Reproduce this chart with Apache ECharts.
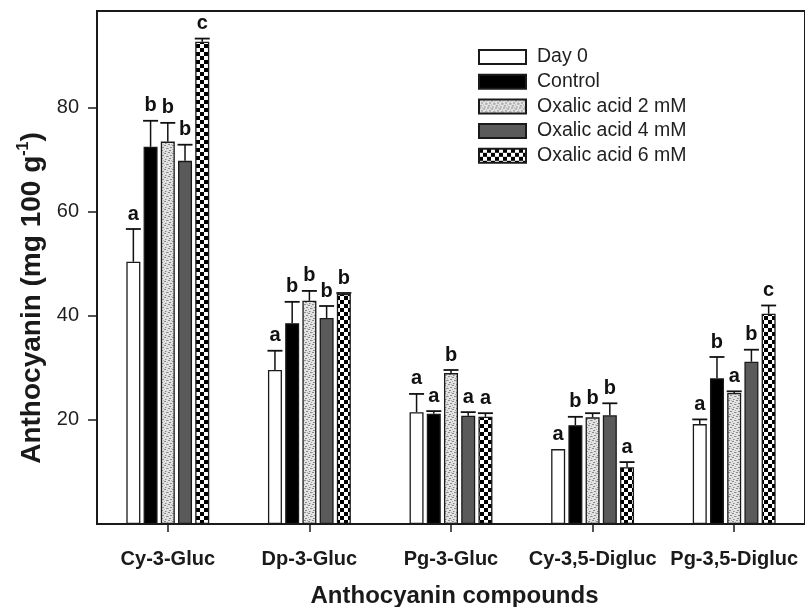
<!DOCTYPE html>
<html><head><meta charset="utf-8">
<script src="https://cdn.jsdelivr.net/npm/echarts@6/dist/echarts.min.js"></script>
<style>html,body{margin:0;padding:0;background:#fff}#c{width:805px;height:607px}</style>
</head><body><div id="c"></div>
<script>
const categories = ['Cy-3-Gluc', 'Dp-3-Gluc', 'Pg-3-Gluc', 'Cy-3,5-Digluc', 'Pg-3,5-Digluc'];
const seriesNames = ['Day 0', 'Control', 'Oxalic acid 2 mM', 'Oxalic acid 4 mM', 'Oxalic acid 6 mM'];
const day0 = [50.4, 29.6, 21.5, 14.4, 19.2];
const control = [72.5, 38.6, 21.2, 19.0, 28.0];
const oxa2 = [73.5, 42.9, 29.0, 20.5, 25.2];
const oxa4 = [69.8, 39.6, 20.8, 20.9, 31.2];
const oxa6 = [92.7, 44.2, 20.6, 10.9, 40.4];
const day0Err = [6.3, 3.7, 3.5, 0, 0.9];
const controlErr = [5.0, 4.1, 0.5, 1.6, 4.1];
const oxa2Err = [3.6, 1.9, 0.6, 0.8, 0.3];
const oxa4Err = [3.1, 2.3, 0.7, 2.3, 2.3];
const oxa6Err = [0.6, 0.2, 0.7, 1.0, 1.6];
const day0L = ['a', 'a', 'a', 'a', 'a'];
const controlL = ['b', 'b', 'a', 'b', 'b'];
const oxa2L = ['b', 'b', 'b', 'b', 'a'];
const oxa4L = ['b', 'b', 'a', 'b', 'b'];
const oxa6L = ['c', 'b', 'a', 'a', 'c'];
const yTicks = [20, 40, 60, 80];

const values = [day0, control, oxa2, oxa4, oxa6];
const errs = [day0Err, controlErr, oxa2Err, oxa4Err, oxa6Err];
const letters = [day0L, controlL, oxa2L, oxa4L, oxa6L];

function makePattern(w, h, draw) {
  const c = document.createElement('canvas');
  c.width = w; c.height = h;
  const ctx = c.getContext('2d');
  draw(ctx);
  return { image: c, repeat: 'repeat' };
}
const stipple = makePattern(8, 8, ctx => {
  ctx.fillStyle = '#e2e2e2'; ctx.fillRect(0, 0, 8, 8);
  ctx.fillStyle = '#8c8c8c';
  [[0,0],[4,1],[2,3],[6,4],[1,6],[5,7]].forEach(p => ctx.fillRect(p[0], p[1], 2, 1));
  ctx.fillStyle = '#b0b0b0';
  [[3,0],[7,2],[0,4],[4,5],[6,7]].forEach(p => ctx.fillRect(p[0], p[1], 1, 1));
});
const checker = makePattern(8, 8, ctx => {
  ctx.fillStyle = '#ffffff'; ctx.fillRect(0, 0, 8, 8);
  ctx.fillStyle = '#000000';
  ctx.fillRect(0, 0, 4, 4); ctx.fillRect(4, 4, 4, 4);
});
const fills = ['#ffffff', '#000000', stipple, '#5a5a5a', checker];

const FONT = '"Liberation Sans", Arial, sans-serif';
const BAR_W = 14, BAR_GAP = '23%', STEP = 14 * 1.23;

const errItems = [];
values.forEach((arr, s) => arr.forEach((v, c) => {
  errItems.push({ cat: c, s: s, v: v, e: errs[s][c], l: letters[s][c] });
}));

const chart = echarts.init(document.getElementById('c'), null, { renderer: 'canvas' });

const barSeries = seriesNames.map((name, s) => ({
  name: name,
  type: 'bar',
  data: values[s],
  barWidth: BAR_W,
  barGap: BAR_GAP,
  itemStyle: { color: fills[s], borderColor: '#1a1a1a', borderWidth: 1.3 },
  emphasis: { disabled: true },
  animation: false
}));

const option = {
  backgroundColor: '#ffffff',
  animation: false,
  grid: { left: 97, top: 11, right: -7, bottom: 83, show: true, borderColor: '#1a1a1a', borderWidth: 2, backgroundColor: 'transparent' },
  legend: {
    data: seriesNames,
    orient: 'vertical',
    left: 478, top: 47,
    itemWidth: 47, itemHeight: 14, itemGap: 4.7,
    padding: 0,
    selectedMode: false,
    icon: 'rect',
    textStyle: { fontFamily: FONT, fontSize: 19.5, color: '#1f1f1f', lineHeight: 20, padding: [0, 0, 0, 6] }
  },
  xAxis: {
    type: 'category',
    data: categories,
    axisLine: { lineStyle: { color: '#1a1a1a', width: 2 } },
    axisTick: { show: true, alignWithLabel: true, length: 8, lineStyle: { color: '#1a1a1a', width: 1.5 } },
    axisLabel: { interval: 0, hideOverlap: false, fontFamily: FONT, fontWeight: 'bold', fontSize: 20, color: '#1a1a1a', margin: 25 },
    splitLine: { show: false }
  },
  yAxis: {
    type: 'value',
    min: 0, max: 98.6, interval: 20,
    axisLine: { show: true, lineStyle: { color: '#1a1a1a', width: 2 } },
    axisTick: { show: true, length: 9, customValues: yTicks, lineStyle: { color: '#1a1a1a', width: 1.5 } },
    axisLabel: { customValues: yTicks, fontFamily: FONT, fontSize: 20, color: '#1f1f1f', margin: 18 },
    splitLine: { show: false }
  },
  graphic: [
    {
      type: 'text', x: 31, y: 298, rotation: Math.PI / 2,
      style: {
        text: '{n|Anthocyanin (mg 100 g}{s|-1}{n|)}',
        textAlign: 'center', textVerticalAlign: 'middle',
        rich: {
          n: { fontFamily: FONT, fontWeight: 'bold', fontSize: 28, fill: '#1a1a1a', lineHeight: 30, verticalAlign: 'bottom' },
          s: { fontFamily: FONT, fontWeight: 'bold', fontSize: 16, fill: '#1a1a1a', lineHeight: 30, verticalAlign: 'top', padding: [0, 0, 14, 0] }
        }
      }
    },
    {
      type: 'text', x: 454.5, y: 596,
      style: { text: 'Anthocyanin compounds', textAlign: 'center', textVerticalAlign: 'middle', fontFamily: FONT, fontWeight: 'bold', fontSize: 24, fill: '#1a1a1a' }
    }
  ],
  series: barSeries.concat([{
    type: 'custom',
    name: 'errors',
    data: errItems.map(d => [d.cat, d.v + d.e]),
    z: 5,
    clip: false,
    silent: true,
    renderItem: function (params, api) {
      const item = errItems[params.dataIndex];
      const base = api.coord([item.cat, 0]);
      const x = base[0] + (item.s - 2) * STEP;
      const yv = api.coord([item.cat, item.v])[1];
      const ye = api.coord([item.cat, item.v + item.e])[1];
      const children = [];
      if (item.e > 0) {
        children.push({ type: 'line', shape: { x1: x, y1: yv, x2: x, y2: ye }, style: { stroke: '#111', lineWidth: 1.5 } });
        children.push({ type: 'line', shape: { x1: x - 7.5, y1: ye, x2: x + 7.5, y2: ye }, style: { stroke: '#111', lineWidth: 1.8 } });
      }
      children.push({ type: 'text', x: x, y: ye - 5, style: { text: item.l, textAlign: 'center', textVerticalAlign: 'bottom', fontFamily: FONT, fontWeight: 'bold', fontSize: 20, fill: '#111' } });
      return { type: 'group', children: children };
    }
  }])
};
chart.setOption(option);
</script>
</body></html>
